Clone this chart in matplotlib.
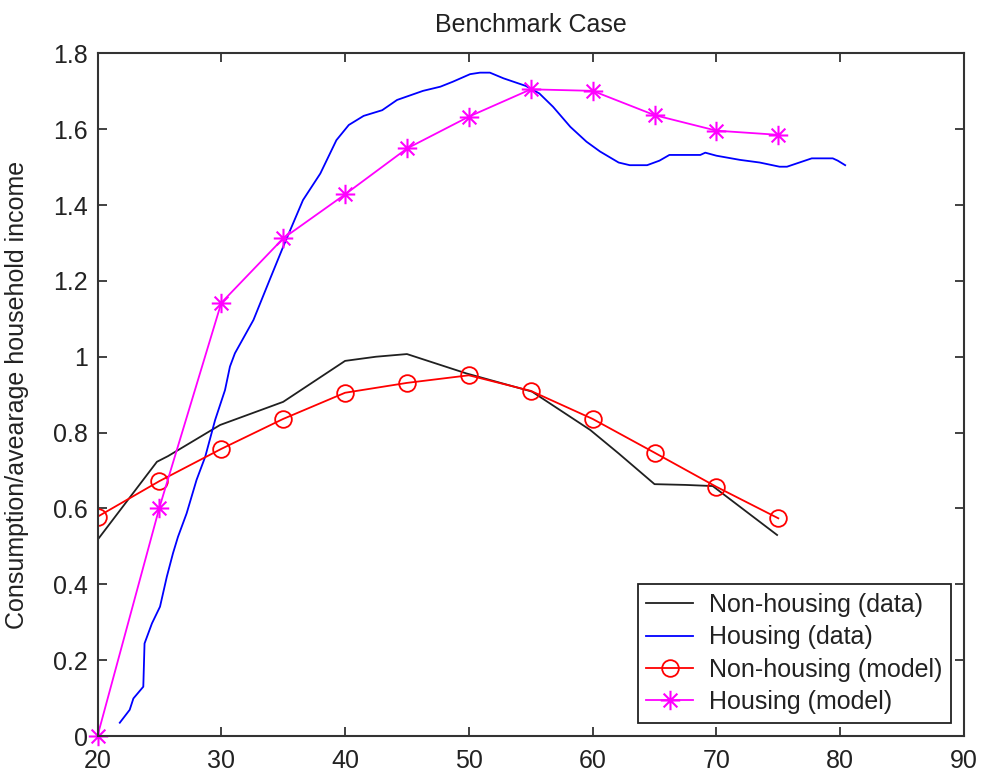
import numpy as np
import matplotlib
matplotlib.use("Agg")
import matplotlib.pyplot as plt
from matplotlib.path import Path
from matplotlib.ticker import FormatStrFormatter

plt.rcParams['font.family'] = ['Liberation Sans', 'DejaVu Sans']

# Life-cycle profiles: consumption relative to average household income
age_nonhousing_data = [20.0, 24.8, 25.7, 29.9, 35.0, 40.0, 40.9, 42.5, 45.0, 49.8,
                       55.1, 59.8, 62.1, 65.0, 67.5, 69.7, 74.9]
nonhousing_data = [0.517, 0.723, 0.738, 0.820, 0.881, 0.989, 0.993, 1.000, 1.007, 0.956,
                   0.908, 0.807, 0.745, 0.664, 0.662, 0.659, 0.530]

age_housing_data = [21.8, 22.6, 22.9, 23.7, 23.8, 24.4, 25.05, 25.6, 26.1, 26.5,
                    27.2, 28.0, 28.7, 29.5, 30.3, 30.7, 31.1, 32.6, 33.9, 35.0,
                    36.6, 38.0, 39.3, 40.3, 41.5, 43.0, 44.2, 46.3, 47.7, 48.7,
                    50.1, 50.9, 51.7, 52.8, 54.6, 55.7, 56.8, 58.2, 59.5, 60.6,
                    62.1, 63.0, 64.4, 65.4, 66.2, 68.7, 69.1, 70.0, 71.9, 73.5,
                    75.1, 75.7, 76.7, 77.7, 79.4, 79.8, 80.4]
housing_data = [0.035, 0.069, 0.099, 0.130, 0.244, 0.297, 0.341, 0.420, 0.482, 0.525,
                0.587, 0.675, 0.736, 0.833, 0.912, 0.974, 1.009, 1.097, 1.202, 1.290,
                1.413, 1.483, 1.571, 1.611, 1.635, 1.650, 1.677, 1.701, 1.712, 1.725,
                1.745, 1.749, 1.749, 1.734, 1.714, 1.694, 1.659, 1.606, 1.567, 1.541,
                1.512, 1.505, 1.505, 1.517, 1.532, 1.532, 1.538, 1.530, 1.519, 1.512,
                1.501, 1.501, 1.512, 1.523, 1.523, 1.517, 1.505]

age_model = [20, 25, 30, 35, 40, 45, 50, 55, 60, 65, 70, 75]
nonhousing_model = [0.578, 0.672, 0.757, 0.836, 0.905, 0.931, 0.951, 0.910, 0.836, 0.747, 0.657, 0.574]
housing_model = [0.0, 0.602, 1.142, 1.312, 1.428, 1.549, 1.633, 1.705, 1.701, 1.637, 1.596, 1.585]

x_ticks = [20, 30, 40, 50, 60, 70, 80, 90]
y_ticks = [0, 0.2, 0.4, 0.6, 0.8, 1.0, 1.2, 1.4, 1.6, 1.8]

# Asterisk marker made of four strokes (vertical, horizontal, two diagonals)
d = 0.7071
asterisk = Path(
    [(0, -1), (0, 1), (-1, 0), (1, 0), (-d, -d), (d, d), (-d, d), (d, -d)],
    [Path.MOVETO, Path.LINETO] * 4,
)

W, H = 981, 775
fig = plt.figure(figsize=(W / 100, H / 100), dpi=100)
ax = fig.add_axes([97.5 / W, 1 - 736 / H, (964 - 97.5) / W, (736 - 53.3) / H])

lw = 1.3
ax.plot(age_nonhousing_data, nonhousing_data, color='#202020', lw=lw, label='Non-housing (data)')
ax.plot(age_housing_data, housing_data, color='#0000ff', lw=lw, label='Housing (data)')
ax.plot(age_model, nonhousing_model, color='#ff0000', lw=lw, marker='o', ms=12,
        mfc='none', mec='#ff0000', mew=1.3, label='Non-housing (model)')
ax.plot(age_model, housing_model, color='#ff00ff', lw=lw, marker=asterisk, ms=14,
        mfc='none', mec='#ff00ff', mew=1.5, label='Housing (model)', clip_on=False)

ax.set_xlim(20, 90)
ax.set_ylim(0, 1.8)
ax.set_xticks(x_ticks)
ax.set_yticks(y_ticks)
ax.yaxis.set_major_formatter(FormatStrFormatter('%g'))

spine_col = '#333333'
for s in ax.spines.values():
    s.set_color(spine_col)
    s.set_linewidth(1.5)
ax.tick_params(direction='in', length=6.5, width=1.3, color=spine_col,
               top=True, right=True, labelsize=18, labelcolor='#222222')
ax.tick_params(axis='y', pad=7)
ax.tick_params(axis='x', pad=9)

ax.set_title('Benchmark Case', fontsize=18, color='#222222', pad=15)
ax.set_ylabel('Consumption/avearage household income', fontsize=18, color='#222222')
ax.yaxis.set_label_coords(-0.0785, 0.5)

leg = ax.legend(loc='lower right', fontsize=18, frameon=True, fancybox=False,
                edgecolor='#222222', framealpha=1,
                bbox_to_anchor=(951 / W, 1 - 722.7 / H), bbox_transform=fig.transFigure,
                borderaxespad=0.0,
                handlelength=1.85, handletextpad=0.65, labelspacing=0.33,
                borderpad=0.35)
leg.get_frame().set_linewidth(1.3)
for t in leg.get_texts():
    t.set_color('#222222')

fig.savefig('out.png', dpi=100)
